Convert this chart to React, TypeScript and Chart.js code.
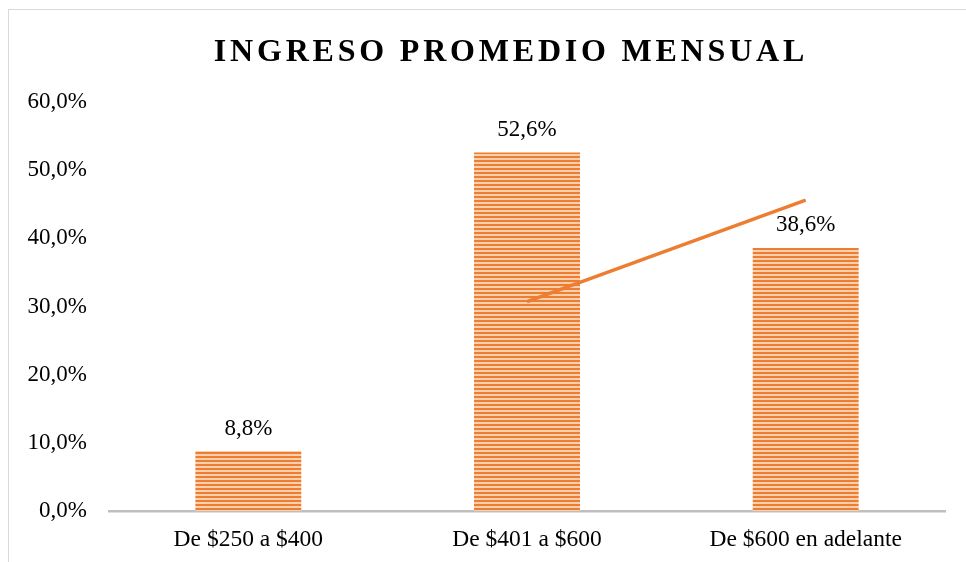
import React, { useEffect, useRef } from "react";
import { Chart, registerables } from "chart.js";

Chart.register(...registerables);

const TITLE = "INGRESO PROMEDIO MENSUAL";
const categories = ["De $250 a $400", "De $401 a $600", "De $600 en adelante"];
const percentages = [8.8, 52.6, 38.6];
// 2-period moving average trendline (Excel style)
const movingAverage = [null, 30.7, 45.6];
const yTicks = [0, 10, 20, 30, 40, 50, 60];

const ORANGE = "#ED7D31";
const FONT = "'Liberation Serif', 'Times New Roman', serif";

function fmt(v: number) {
  return v.toFixed(1).replace(".", ",") + "%";
}

function makePattern(): CanvasPattern | string {
  const c = document.createElement("canvas");
  c.width = 4;
  c.height = 4;
  const g = c.getContext("2d");
  if (!g) return ORANGE;
  g.fillStyle = "#F9CFAE";
  g.fillRect(0, 0, 4, 4);
  g.fillStyle = ORANGE;
  g.fillRect(0, 0, 4, 2);
  const p = g.createPattern(c, "repeat");
  return p || ORANGE;
}

const dataLabels = {
  id: "dataLabels",
  afterDatasetsDraw(chart: any) {
    const ctx = chart.ctx;
    const meta = chart.getDatasetMeta(0);
    ctx.save();
    ctx.font = `23px ${FONT}`;
    ctx.fillStyle = "#000";
    ctx.textAlign = "center";
    ctx.textBaseline = "alphabetic";
    meta.data.forEach((el: any, i: number) => {
      ctx.fillText(fmt(percentages[i]), el.x, el.y - 16.5);
    });
    ctx.restore();
  },
};

export default function App() {
  const ref = useRef<HTMLCanvasElement | null>(null);

  useEffect(() => {
    if (!ref.current) return;
    const pattern = makePattern();
    const chart = new Chart(ref.current, {
      type: "bar",
      data: {
        labels: categories,
        datasets: [
          {
            type: "bar",
            label: "Ingreso",
            data: percentages,
            backgroundColor: pattern as any,
            borderWidth: 0,
            categoryPercentage: 1,
            barPercentage: 0.38,
            order: 2,
          },
          {
            type: "line",
            label: "Media móvil (2 per.)",
            data: movingAverage as any,
            borderColor: ORANGE,
            borderWidth: 3.5,
            pointRadius: 0,
            fill: false,
            tension: 0,
            order: 1,
          } as any,
        ],
      },
      options: {
        responsive: false,
        animation: false,
        layout: { padding: { top: 102, right: 21, left: 0, bottom: 0 } },
        plugins: {
          legend: { display: false },
          title: { display: false },
          tooltip: { enabled: false },
        },
        scales: {
          x: {
            grid: { display: false, drawTicks: false },
            border: { display: true, color: "#BFBFBF", width: 2.5 },
            ticks: {
              padding: 15,
              color: "#000",
              font: { family: FONT, size: 23.5 },
              maxRotation: 0,
            },
            afterFit: (s: any) => {
              s.height = 51;
            },
          },
          y: {
            min: 0,
            max: 60,
            grid: { display: false, drawTicks: false },
            border: { display: false },
            afterBuildTicks: (s: any) => {
              s.ticks = yTicks.map((v) => ({ value: v }));
            },
            ticks: {
              padding: 22,
              color: "#000",
              font: { family: FONT, size: 23 },
              callback: (v: any) => fmt(Number(v)),
            },
            afterFit: (s: any) => {
              s.width = 109;
            },
          },
        },
      },
      plugins: [dataLabels],
    });
    return () => chart.destroy();
  }, []);

  return (
    <div
      style={{
        position: "fixed",
        left: 0,
        top: 0,
        width: 966,
        height: 562,
        overflow: "hidden",
        background: "#fff",
      }}
    >
      <div
        style={{
          position: "absolute",
          left: 8,
          top: 9,
          width: 1100,
          height: 700,
          border: "1.5px solid #D9D9D9",
        }}
      />
      <canvas
        ref={ref}
        width={966}
        height={562}
        style={{ position: "absolute", left: 0, top: 0 }}
      />
      <div
        style={{
          position: "absolute",
          left: 0,
          top: 34,
          width: 1022,
          textAlign: "center",
          fontFamily: FONT,
          fontWeight: "bold",
          fontSize: 32,
          lineHeight: "32px",
          letterSpacing: "3.8px",
          color: "#000",
          whiteSpace: "nowrap",
        }}
      >
        {TITLE}
      </div>
    </div>
  );
}
